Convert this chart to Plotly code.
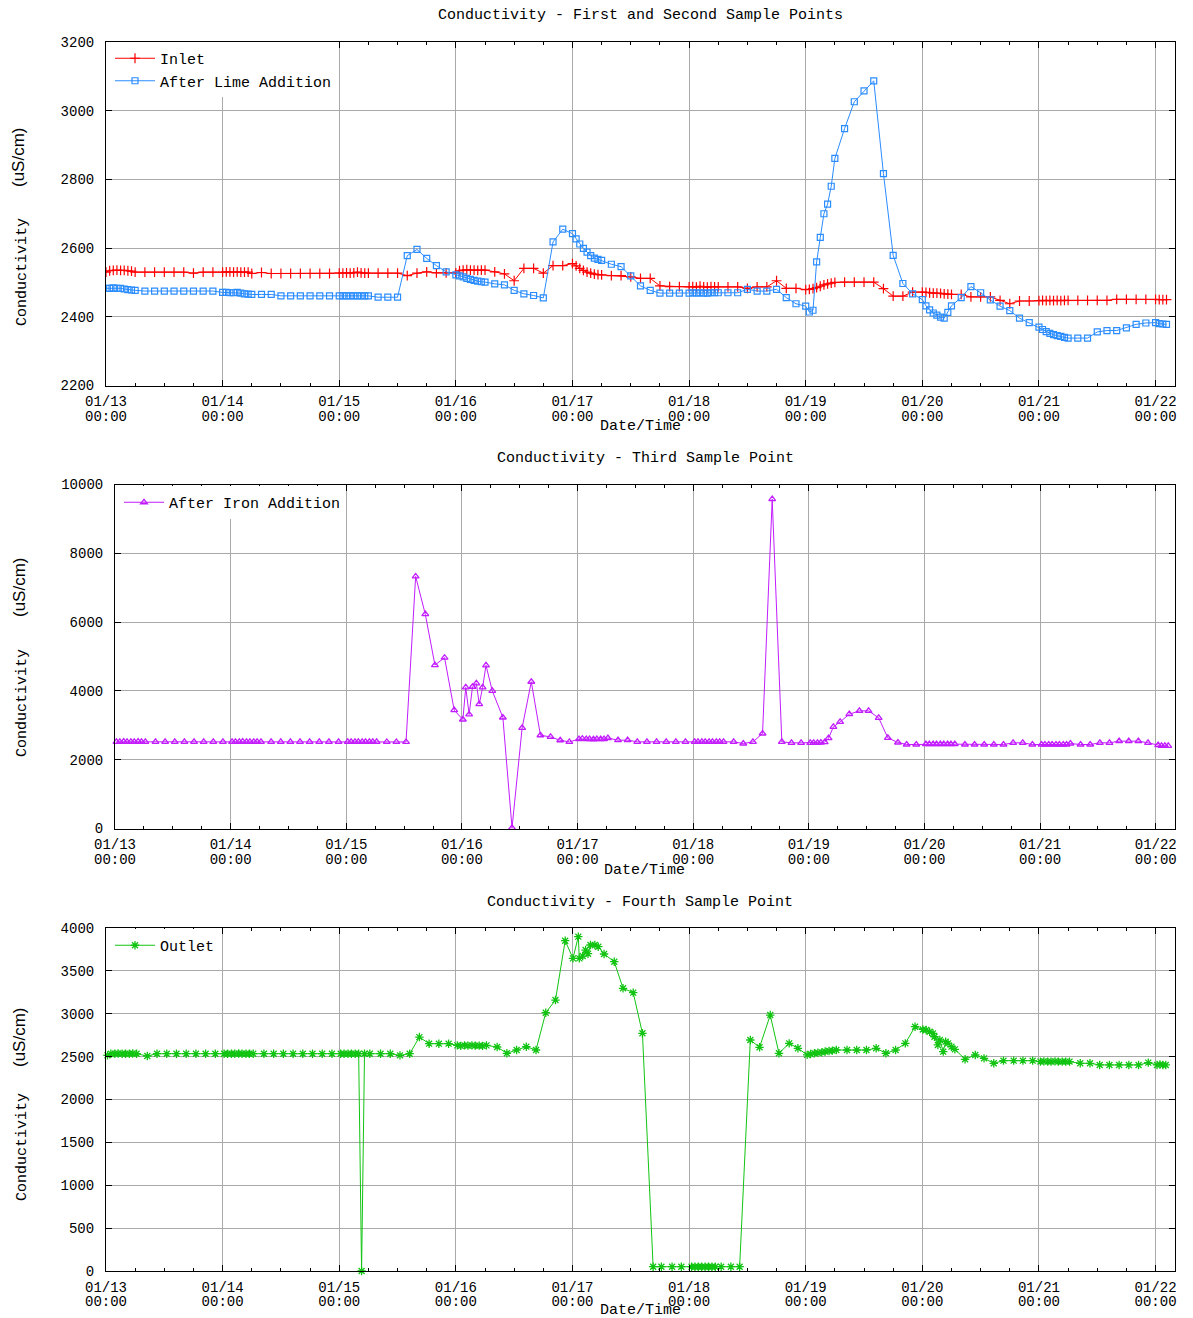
import pandas as pd
import plotly.graph_objects as go

# ---------------- data (hours after 01/13 00:00) ----------------
p1_hours = [
    0, 0.75, 1.5, 2.25, 3, 3.75, 4.5, 5.25, 6, 8, 10, 12, 14, 16, 18, 20, 22,
    24, 24.75, 25.5, 26.25, 27, 27.75, 28.5, 29.25, 30, 32, 34, 36, 38, 40, 42, 44, 46,
    48, 48.75, 49.5, 50.25, 51, 51.75, 52.5, 53.25, 54, 56, 58, 60, 62, 64, 66, 68, 70,
    72, 72.75, 73.5, 74.25, 75, 75.75, 76.5, 77.25, 78, 80, 82, 84, 86, 88, 90, 92, 94,
    96, 96.75, 97.5, 98.25, 99, 99.75, 100.5, 101.25, 102, 104, 106, 108, 110, 112, 114, 116, 118,
    120, 120.75, 121.5, 122.25, 123, 123.75, 124.5, 125.25, 126, 128, 130, 132, 134, 136, 138, 140, 142,
    144, 144.75, 145.5, 146.25, 147, 147.75, 148.5, 149.25, 150, 152, 154, 156, 158, 160, 162, 164, 166,
    168, 168.75, 169.5, 170.25, 171, 171.75, 172.5, 173.25, 174, 176, 178, 180, 182, 184, 186, 188, 190,
    192, 192.75, 193.5, 194.25, 195, 195.75, 196.5, 197.25, 198, 200, 202, 204, 206, 208, 210, 212, 214,
    216, 216.75, 217.5, 218.25,
]
inlet_values = [
    2530, 2534, 2535, 2536, 2535, 2535, 2534, 2533, 2530, 2530, 2530, 2530, 2530, 2530, 2527, 2530, 2530,
    2530, 2531, 2531, 2530, 2531, 2530, 2530, 2530, 2526, 2529, 2526, 2526, 2526, 2526, 2526, 2526, 2526,
    2527, 2527, 2528, 2527, 2528, 2530, 2528, 2527, 2527, 2527, 2527, 2527, 2520, 2527, 2531, 2528, 2528,
    2528, 2534, 2536, 2537, 2536, 2536, 2535, 2536, 2536, 2531, 2525, 2505, 2541, 2541, 2527, 2549, 2549,
    2555, 2548, 2541, 2535, 2530, 2527, 2524, 2523, 2522, 2520, 2520, 2516, 2512, 2512, 2490, 2488, 2488,
    2487, 2488, 2486, 2489, 2487, 2486, 2488, 2487, 2487, 2487, 2487, 2483, 2487, 2487, 2505, 2483, 2483,
    2479, 2480, 2482, 2485, 2489, 2493, 2496, 2498, 2500, 2501, 2501, 2501, 2501, 2482, 2460, 2460, 2472,
    2472, 2471, 2470, 2469, 2469, 2468, 2467, 2466, 2465, 2465, 2458, 2458, 2458, 2448, 2438, 2446, 2446,
    2447, 2448, 2447, 2448, 2447, 2448, 2447, 2448, 2448, 2448, 2448, 2448, 2448, 2451, 2451, 2451, 2451,
    2451, 2450, 2450, 2450,
]
lime_values = [
    2483, 2483, 2484, 2483, 2483, 2481, 2479, 2478, 2477, 2475, 2475, 2475, 2475, 2475, 2475, 2475, 2475,
    2471, 2471, 2470, 2470, 2471, 2469, 2467, 2466, 2465, 2465, 2465, 2461, 2461, 2461, 2461, 2461, 2461,
    2461, 2461, 2461, 2461, 2461, 2461, 2461, 2461, 2461, 2457, 2457, 2457, 2578, 2596, 2570, 2549, 2531,
    2522, 2519, 2516, 2512, 2509, 2506, 2504, 2502, 2501, 2496, 2493, 2477, 2467, 2462, 2455, 2618, 2655,
    2642, 2627, 2612, 2599, 2588, 2578, 2571, 2567, 2564, 2553, 2546, 2519, 2490, 2477, 2469, 2469, 2469,
    2469, 2470, 2469, 2470, 2469, 2469, 2470, 2470, 2470, 2470, 2470, 2480, 2475, 2475, 2480, 2456, 2438,
    2431, 2414, 2419, 2560, 2631, 2700, 2728, 2780, 2861, 2948, 3026, 3058, 3087, 2817, 2579, 2497, 2467,
    2450, 2432, 2420, 2411, 2405, 2399, 2396, 2413, 2432, 2456, 2488, 2470, 2449, 2431, 2418, 2396, 2383,
    2370, 2363, 2357, 2352, 2348, 2345, 2343, 2340, 2338, 2338, 2338, 2356, 2360, 2360, 2368, 2378, 2382,
    2383, 2380, 2379, 2378,
]

p2_hours = [
    0.3, 1, 1.8, 2.5, 3.3, 4, 4.8, 5.5, 6.3, 8.4, 10.4, 12.4, 14.4, 16.4, 18.4, 20.4, 22.4,
    24.3, 25, 25.8, 26.5, 27.3, 28, 28.8, 29.5, 30.3, 32.4, 34.4, 36.4, 38.4, 40.4, 42.4, 44.4, 46.4,
    48.3, 49, 49.8, 50.5, 51.3, 52, 52.8, 53.5, 54.3, 56.4, 58.4, 60.4, 62.4, 64.4, 66.4, 68.4, 70.4,
    72.2, 72.8, 73.5, 74.2, 75, 75.6, 76.3, 77, 78.3, 80.5, 82.4, 84.5, 86.4, 88.3, 90.4, 92.4, 94.3,
    96.3, 97, 97.8, 98.5, 99.3, 100, 100.8, 101.5, 102.3, 104.4, 106.4, 108.4, 110.4, 112.4, 114.4, 116.4, 118.4,
    120.3, 121, 121.8, 122.5, 123.3, 124, 124.8, 125.5, 126.3, 128.4, 130.4, 132.4, 134.4, 136.4, 138.4, 140.4, 142.4,
    144.3, 145, 145.8, 146.5, 147.3, 148.1, 149.1, 150.5, 152.4, 154.5, 156.4, 158.5, 160.4, 162.5, 164.3, 166.3,
    168.3, 169, 169.8, 170.5, 171.3, 172, 172.8, 173.5, 174.3, 176.4, 178.4, 180.4, 182.4, 184.4, 186.4, 188.4, 190.4,
    192.3, 193, 193.8, 194.5, 195.3, 196, 196.8, 197.5, 198.3, 200.4, 202.4, 204.4, 206.4, 208.4, 210.4, 212.4, 214.4,
    216.5, 217.2, 217.9, 218.6,
]
iron_values = [
    2520, 2520, 2525, 2520, 2520, 2520, 2525, 2520, 2520, 2520, 2520, 2520, 2520, 2520, 2520, 2520, 2520,
    2520, 2520, 2520, 2525, 2520, 2520, 2520, 2520, 2520, 2520, 2520, 2520, 2520, 2520, 2520, 2520, 2520,
    2520, 2520, 2520, 2520, 2520, 2520, 2520, 2520, 2520, 2516, 2516, 2516, 7327, 6230, 4752, 4965, 3440,
    3169, 4101, 3315, 4120, 4218, 3615, 4101, 4743, 4003, 3227, 20, 2924, 4266, 2711, 2662, 2566, 2516,
    2600, 2610, 2600, 2600, 2595, 2600, 2598, 2600, 2630, 2568, 2568, 2519, 2519, 2519, 2519, 2519, 2519,
    2519, 2519, 2519, 2519, 2519, 2519, 2519, 2519, 2519, 2519, 2471, 2519, 2762, 9574, 2519, 2490, 2490,
    2490, 2490, 2492, 2498, 2510, 2626, 2955, 3100, 3323, 3420, 3420, 3217, 2635, 2500, 2442, 2442,
    2452, 2452, 2452, 2452, 2452, 2452, 2452, 2452, 2452, 2442, 2442, 2442, 2442, 2442, 2490, 2490, 2442,
    2442, 2442, 2442, 2442, 2442, 2442, 2442, 2442, 2471, 2442, 2442, 2490, 2490, 2539, 2539, 2539, 2490,
    2422, 2403, 2405, 2403,
]

p3_hours = [
    0.3, 1, 1.8, 2.5, 3.3, 4, 4.8, 5.5, 6.3, 8.5, 10.5, 12.5, 14.5, 16.5, 18.5, 20.5, 22.5,
    24.3, 25, 25.8, 26.5, 27.3, 28, 28.8, 29.5, 30.3, 32.5, 34.5, 36.5, 38.5, 40.5, 42.5, 44.5, 46.5,
    48.3, 49, 49.8, 50.5, 51.3, 52, 52.6, 53.2, 54.3, 56.5, 58.5, 60.5, 62.5, 64.5, 66.5, 68.5, 70.5,
    72.3, 73, 73.8, 74.5, 75.3, 76, 76.8, 77.5, 78.3, 80.5, 82.5, 84.5, 86.5, 88.5, 90.5, 92.5, 94.5,
    96.1, 97.2, 97.4, 98.1, 98.7, 99.2, 99.7, 100.6, 101.3, 102.5, 104.6, 106.4, 108.5, 110.4, 112.6, 114.3, 116.5, 118.4,
    120.5, 121.2, 121.9, 122.6, 123.3, 124, 124.7, 125.4, 126.6, 128.6, 130.4, 132.6, 134.5, 136.7, 138.5, 140.6, 142.4,
    144.3, 145, 145.8, 146.5, 147.3, 148, 148.8, 149.5, 150.3, 152.5, 154.5, 156.5, 158.5, 160.5, 162.5, 164.5, 166.5,
    168.1, 168.8, 169.5, 170.2, 170.5, 171.2, 171.6, 172.3, 172.8, 173.3, 174, 174.7, 176.8, 178.9, 180.7, 182.7, 184.7, 186.8, 188.7, 190.7,
    192.3, 193, 193.8, 194.5, 195.3, 196, 196.8, 197.5, 198.3, 200.5, 202.5, 204.5, 206.5, 208.5, 210.5, 212.5, 214.5,
    216.3, 216.9, 217.5, 218.1,
]
outlet_values = [
    2515, 2534, 2534, 2536, 2534, 2534, 2534, 2536, 2534, 2507, 2534, 2534, 2534, 2534, 2534, 2534, 2534,
    2534, 2534, 2534, 2534, 2536, 2534, 2534, 2534, 2534, 2534, 2534, 2534, 2534, 2534, 2534, 2534, 2534,
    2534, 2534, 2534, 2534, 2534, 2534, 0, 2534, 2534, 2534, 2534, 2515, 2534, 2728, 2651, 2651, 2651,
    2631, 2625, 2631, 2628, 2631, 2628, 2628, 2625, 2631, 2612, 2539, 2577, 2616, 2577, 3012, 3160, 3852,
    3646, 3899, 3646, 3673, 3743, 3700, 3802, 3802, 3782, 3697, 3607, 3297, 3246, 2772, 50, 50, 50, 50,
    50, 50, 50, 50, 50, 50, 50, 50, 50, 50, 50, 2694, 2609, 2985, 2539, 2655, 2597,
    2520, 2530, 2540, 2545, 2550, 2560, 2565, 2570, 2577, 2577, 2577, 2577, 2597, 2539, 2577, 2655, 2849,
    2817, 2810, 2790, 2771, 2732, 2636, 2694, 2558, 2675, 2655, 2616, 2585, 2469, 2519, 2480, 2422, 2453, 2453, 2453, 2453,
    2442, 2445, 2442, 2442, 2445, 2442, 2442, 2442, 2442, 2422, 2422, 2403, 2403, 2403, 2403, 2403, 2430,
    2403, 2410, 2403, 2403,
]

day_labels = ["01/13", "01/14", "01/15", "01/16", "01/17", "01/18", "01/19", "01/20", "01/21", "01/22"]
time_labels = ["00:00"] * len(day_labels)

# ---------------- helpers ----------------
START = pd.Timestamp("2011-01-13 00:00")
def to_time(hours):
    return [START + pd.Timedelta(hours=h) for h in hours]

day_ticks = [pd.Timestamp("2011-" + d.replace("/", "-")) for d in day_labels]
x_range = [START, pd.Timestamp("2011-01-22 04:00")]

W, H = 1193, 1318
def fx(p):
    return p / W
def fy(p):
    return 1 - p / H

MONO = "Liberation Mono, DejaVu Sans Mono, monospace"
SANS = "Liberation Sans, Arial, sans-serif"
font_mono = dict(family=MONO, size=15, color="#000000")
font_tick = dict(family=MONO, size=14, color="#000000")
GRID = "#a9a9a9"

RED = "#ff0000"
BLUE = "#2a8cff"
MAG = "#c21cff"
GREEN = "#12c412"

fig = go.Figure()

fig.add_trace(go.Scatter(
    x=to_time(p1_hours), y=inlet_values, name="Inlet", mode="lines+markers",
    line=dict(color=RED, width=1),
    marker=dict(symbol="cross-thin-open", size=7, line=dict(color=RED, width=1.2)),
    xaxis="x", yaxis="y", legend="legend"))
fig.add_trace(go.Scatter(
    x=to_time(p1_hours), y=lime_values, name="After Lime Addition", mode="lines+markers",
    line=dict(color=BLUE, width=1),
    marker=dict(symbol="square-open", size=6, line=dict(color=BLUE, width=1.2)),
    xaxis="x", yaxis="y", legend="legend"))
fig.add_trace(go.Scatter(
    x=to_time(p2_hours), y=iron_values, name="After Iron Addition", mode="lines+markers",
    line=dict(color=MAG, width=1),
    marker=dict(symbol="triangle-up-open", size=6, line=dict(color=MAG, width=1.3)),
    xaxis="x2", yaxis="y2", legend="legend2", cliponaxis=False))
fig.add_trace(go.Scatter(
    x=to_time(p3_hours), y=outlet_values, name="Outlet", mode="lines+markers",
    line=dict(color=GREEN, width=1),
    marker=dict(symbol="asterisk-open", size=7, line=dict(color=GREEN, width=1.3)),
    xaxis="x3", yaxis="y3", legend="legend3", cliponaxis=False))

# empty helper traces so the second-row label axes ("00:00") get drawn
for i, sx in enumerate(["", "2", "3"], start=4):
    fig.add_trace(go.Scatter(x=[], y=[], xaxis="x" + str(i), yaxis="y" + sx,
                             showlegend=False, hoverinfo="skip"))

panels = [
    # (x-left, x-right, y-top, y-bottom, y-range, y-dtick)
    (106, 1175, 42, 385.5, [2200, 3200], 200),
    (115, 1175, 484.5, 828.5, [0, 10000], 2000),
    (106, 1175, 928, 1271, [0, 4000], 500),
]

layout = dict(
    template="none",
    width=W, height=H,
    margin=dict(l=0, r=0, t=0, b=0, pad=0, autoexpand=False),
    paper_bgcolor="white", plot_bgcolor="white",
    font=font_mono,
    showlegend=True,
    hovermode="closest",
)

for i, (xl, xr, yt, yb, yr, dt) in enumerate(panels, start=1):
    sx = "" if i == 1 else str(i)
    layout["xaxis" + sx] = dict(
        domain=[fx(xl), fx(xr)], anchor="y" + sx, type="date", range=x_range,
        tickmode="array", tickvals=day_ticks, ticktext=day_labels,
        ticks="inside", ticklen=6, tickcolor="black", tickwidth=1,
        showline=True, linecolor="black", linewidth=1, mirror="ticks",
        showgrid=True, gridcolor=GRID, gridwidth=1, zeroline=False,
        minor=dict(dtick=6 * 3600 * 1000, tick0=START, ticks="inside", ticklen=3,
                   tickcolor="black", showgrid=False),
        tickfont=font_tick, ticklabelstandoff=3, automargin=False,
    )
    layout["yaxis" + sx] = dict(
        domain=[fy(yb), fy(yt)], anchor="x" + sx, range=yr, dtick=dt, tick0=0,
        tickformat="d",
        ticks="inside", ticklen=6, tickcolor="black", tickwidth=1,
        showline=True, linecolor="black", linewidth=1, mirror="ticks",
        showgrid=True, gridcolor=GRID, gridwidth=1, zeroline=False,
        tickfont=font_tick, ticklabelstandoff=8, automargin=False,
    )
    # second line of the date labels ("00:00")
    layout["xaxis" + str(i + 3)] = dict(
        overlaying="x" + sx, anchor="y" + sx, side="bottom", type="date", range=x_range,
        tickmode="array", tickvals=day_ticks, ticktext=time_labels,
        ticks="", showline=False, showgrid=False, zeroline=False,
        tickfont=font_tick, ticklabelstandoff=20, automargin=False,
    )

layout["legend"] = dict(x=fx(110), y=fy(42), xanchor="left", yanchor="top",
                        bgcolor="white", font=font_mono, tracegroupgap=0, itemwidth=40)
layout["legend2"] = dict(x=fx(119), y=fy(486), xanchor="left", yanchor="top",
                         bgcolor="white", font=font_mono, itemwidth=40)
layout["legend3"] = dict(x=fx(110), y=fy(929), xanchor="left", yanchor="top",
                         bgcolor="white", font=font_mono, itemwidth=40)

titles = [
    ("Conductivity - First and Second Sample Points", 640, 16),
    ("Conductivity - Third Sample Point", 645, 459),
    ("Conductivity - Fourth Sample Point", 640, 902),
]
xtitles = [(640, 427), (644, 870), (640, 1310)]
ylabels = [(272, 157), (703, 587), (1147, 1037)]

ann = []
for text, x, y in titles:
    ann.append(dict(text=text, x=fx(x), y=fy(y), xref="paper", yref="paper",
                    xanchor="center", yanchor="middle", showarrow=False, font=font_mono))
for x, y in xtitles:
    ann.append(dict(text="Date/Time", x=fx(x), y=fy(y), xref="paper", yref="paper",
                    xanchor="center", yanchor="middle", showarrow=False, font=font_mono))
for yc, yu in ylabels:
    ann.append(dict(text="Conductivity", x=fx(22), y=fy(yc), xref="paper", yref="paper",
                    xanchor="center", yanchor="middle", textangle=-90, showarrow=False,
                    font=font_mono))
    ann.append(dict(text="(uS/cm)", x=fx(19), y=fy(yu), xref="paper", yref="paper",
                    xanchor="center", yanchor="middle", textangle=-90, showarrow=False,
                    font=dict(family=SANS, size=17, color="#000000")))
layout["annotations"] = ann

fig.update_layout(**layout)
fig.write_html("out.html", config={"displayModeBar": False},
               post_script="document.body.style.margin='0';document.body.style.overflow='hidden';")
